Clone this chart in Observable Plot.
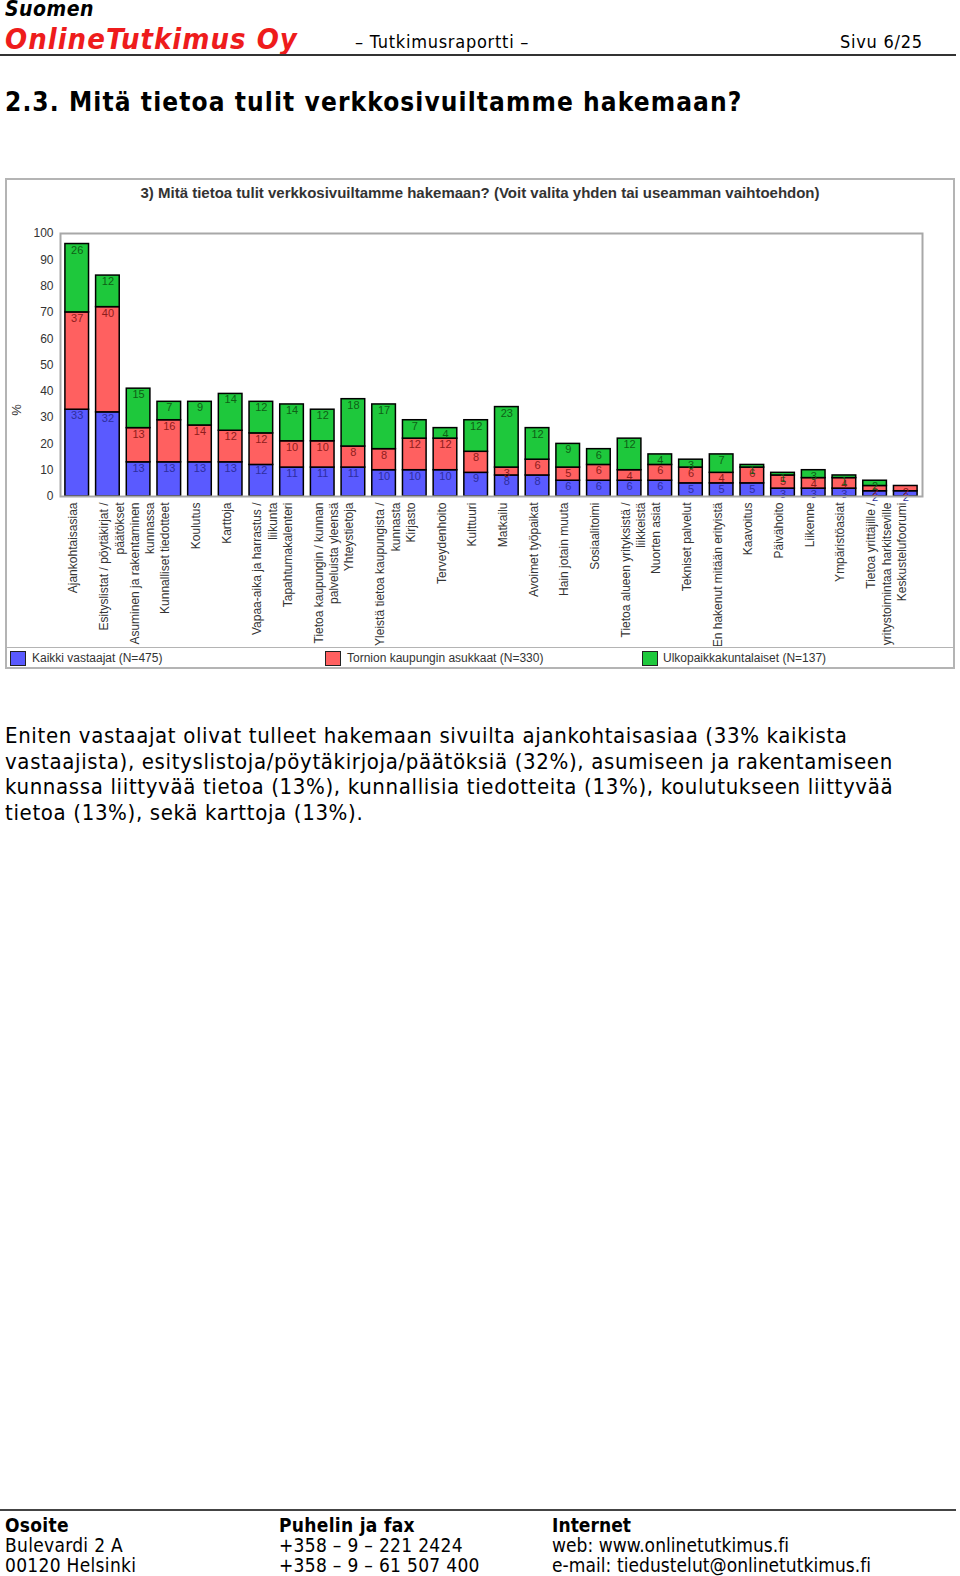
<!DOCTYPE html>
<html><head><meta charset="utf-8">
<script src="https://cdn.jsdelivr.net/npm/d3@7"></script>
<script src="https://cdn.jsdelivr.net/npm/@observablehq/plot@0.6"></script>
<style>
html,body{margin:0;padding:0;background:#fff;}
body{width:960px;height:1576px;position:relative;overflow:hidden;font-family:"DejaVu Sans Condensed","DejaVu Sans",sans-serif;color:#000;}
.abs{position:absolute;white-space:nowrap;}
.hdr{font-weight:bold;font-style:italic;}
.cf{font-family:"Liberation Sans",Arial,sans-serif;color:#333;}
.sw{position:absolute;width:14px;height:13px;border:1px solid #222;}
</style></head><body>

<div class="abs hdr" style="left:5px;top:-4px;font-size:21px;line-height:26px;letter-spacing:0.5px;">Suomen</div>
<div class="abs hdr" style="left:5px;top:22px;font-size:29px;line-height:34px;letter-spacing:1px;color:#ee1c1c;">OnlineTutkimus Oy</div>
<div class="abs" style="left:355px;top:32px;font-size:18px;line-height:20px;letter-spacing:0.75px;">– Tutkimusraportti –</div>
<div class="abs" style="left:840px;top:32px;font-size:18px;line-height:20px;letter-spacing:0.75px;">Sivu 6/25</div>
<div class="abs" style="left:0;top:54px;width:956px;height:2px;background:#333;"></div>

<div class="abs" style="left:5px;top:86px;font-size:26px;line-height:32px;font-weight:bold;letter-spacing:1.1px;">2.3. Mitä tietoa tulit verkkosivuiltamme hakemaan?</div>

<div class="abs" style="left:5px;top:178px;width:950px;height:491px;box-sizing:border-box;border:2px solid #b4b4b4;"></div>
<div class="abs cf" style="left:0;width:960px;top:183px;text-align:center;font-size:15px;line-height:19px;font-weight:bold;">3) Mitä tietoa tulit verkkosivuiltamme hakemaan? (Voit valita yhden tai useamman vaihtoehdon)</div>
<div class="abs cf" style="left:11px;top:402px;font-size:13px;line-height:16px;transform:rotate(-90deg);">%</div>
<div id="chart" class="abs" style="left:7px;top:200px;"></div>
<div class="abs" style="left:7px;top:647px;width:946px;height:1px;background:#b4b4b4;"></div>
<div id="legend"></div>

<div class="abs" style="left:5px;top:723px;font-size:22px;line-height:25.5px;letter-spacing:0.65px;">Eniten vastaajat olivat tulleet hakemaan sivuilta ajankohtaisasiaa (33% kaikista<br>vastaajista), esityslistoja/pöytäkirjoja/päätöksiä (32%), asumiseen ja rakentamiseen<br>kunnassa liittyvää tietoa (13%), kunnallisia tiedotteita (13%), koulutukseen liittyvää<br>tietoa (13%), sekä karttoja (13%).</div>

<div class="abs" style="left:0;top:1509px;width:956px;height:2px;background:#444;"></div>
<div class="abs" style="left:5px;top:1515px;font-size:19px;line-height:20px;letter-spacing:0.3px;"><b>Osoite</b><br>Bulevardi 2 A<br>00120 Helsinki</div>
<div class="abs" style="left:279px;top:1515px;font-size:19px;line-height:20px;letter-spacing:0.3px;"><b>Puhelin ja fax</b><br>+358 – 9 – 221 2424<br>+358 – 9 – 61 507 400</div>
<div class="abs" style="left:552px;top:1515px;font-size:19px;line-height:20px;letter-spacing:0.05px;"><b>Internet</b><br>web: www.onlinetutkimus.fi<br>e-mail: tiedustelut@onlinetutkimus.fi</div>

<script>
const categories = [
  "Ajankohtaisasiaa",
  "Esityslistat / pöytäkirjat /\npäätökset",
  "Asuminen ja rakentaminen\nkunnassa",
  "Kunnalliset tiedotteet",
  "Koulutus",
  "Karttoja",
  "Vapaa-aika ja harrastus /\nliikunta",
  "Tapahtumakalenteri",
  "Tietoa kaupungin / kunnan\npalveluista yleensä",
  "Yhteystietoja",
  "Yleistä tietoa kaupungista /\nkunnasta",
  "Kirjasto",
  "Terveydenhoito",
  "Kulttuuri",
  "Matkailu",
  "Avoimet työpaikat",
  "Hain jotain muuta",
  "Sosiaalitoimi",
  "Tietoa alueen yrityksistä /\nliikkeistä",
  "Nuorten asiat",
  "Tekniset palvelut",
  "En hakenut mitään erityistä",
  "Kaavoitus",
  "Päivähoito",
  "Liikenne",
  "Ympäristöasiat",
  "Tietoa yrittäjille /\nyritystoimintaa harkitseville",
  "Keskustelufoorumi"
];
const seriesNames = ["Kaikki vastaajat (N=475)", "Tornion kaupungin asukkaat (N=330)", "Ulkopaikkakuntalaiset (N=137)"];
const kaikki = [33,32,13,13,13,13,12,11,11,11,10,10,10,9,8,8,6,6,6,6,5,5,5,3,3,3,2,2];
const tornio = [37,40,13,16,14,12,12,10,10,8,8,12,12,8,3,6,5,6,4,6,6,4,6,5,4,4,2,2];
const ulko   = [26,12,15,7,9,14,12,14,12,18,17,7,4,12,23,12,9,6,12,4,3,7,1,1,3,1,2,0];
const yTicks = [0,10,20,30,40,50,60,70,80,90,100];
const fills = ["#5a5aff", "#ff6060", "#1ec83c"];
const labelFills = ["#2e2e9e", "#8e1c1c", "#0f5f16"];

const values = [kaikki, tornio, ulko];
const rows = [];
categories.forEach((c, i) => seriesNames.forEach((s, j) => rows.push({cat: c, series: s, value: values[j][i]})));

const labelMarks = seriesNames.map((s, j) =>
  Plot.text(rows, Plot.stackY2({
    x: "cat", y: "value", z: "series", order: seriesNames,
    text: d => (d.series === s && d.value > 0) ? String(d.value) : null,
    fill: labelFills[j], dy: 6, fontSize: 11
  }))
);

const chart = Plot.plot({
  width: 946, height: 446,
  marginLeft: 53, marginRight: 31, marginTop: 33, marginBottom: 150,
  style: {fontFamily: "Liberation Sans, Arial, sans-serif", fontSize: "12px", color: "#333", background: "transparent"},
  x: {domain: categories, paddingInner: 0.23, paddingOuter: 0.16, round: false, label: null},
  y: {domain: [0, 100], label: null},
  color: {domain: seriesNames, range: fills},
  marks: [
    Plot.barY(rows, {x: "cat", y: "value", fill: "series", stroke: "#000", strokeWidth: 1.5, order: seriesNames}),
    ...labelMarks,
    Plot.frame({stroke: "#a8a8a8", strokeWidth: 2}),
    Plot.axisX({tickRotate: -90, tickSize: 0, tickPadding: 6, fontSize: 12, lineWidth: 40, lineAnchor: "top", lineHeight: 1.3, dx: -11, tickFormat: d => d}),
    Plot.axisY({ticks: yTicks, tickSize: 0, tickPadding: 7, fontSize: 12})
  ]
});
document.getElementById("chart").appendChild(chart);

const legendPos = [[10, 32], [325, 347], [642, 663]];
const leg = document.getElementById("legend");
seriesNames.forEach((s, j) => {
  const sw = document.createElement("div");
  sw.className = "sw";
  sw.style.left = legendPos[j][0] + "px";
  sw.style.top = "651px";
  sw.style.background = fills[j];
  leg.appendChild(sw);
  const t = document.createElement("div");
  t.className = "abs cf";
  t.style.left = legendPos[j][1] + "px";
  t.style.top = "650px";
  t.style.fontSize = "12px";
  t.style.lineHeight = "16px";
  t.textContent = s;
  leg.appendChild(t);
});
</script>
</body></html>
